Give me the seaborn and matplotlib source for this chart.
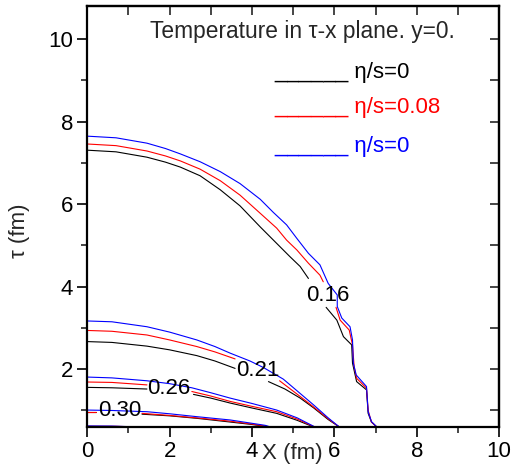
import numpy as np
import pandas as pd
import matplotlib
matplotlib.use("Agg")
import matplotlib.pyplot as plt
from matplotlib.ticker import MultipleLocator
import seaborn as sns

# ---------------- data ----------------
# black : eta/s = 0 (first), red : eta/s = 0.08, blue : eta/s = 0 (second)
# T = 0.16 contour
B016a_x = [0.00, 0.70, 1.45, 1.90, 2.26, 2.74, 3.23, 3.71, 4.20, 4.60, 4.92, 5.17, 5.37]
B016a_t = [7.31, 7.27, 7.14, 7.02, 6.90, 6.69, 6.35, 5.96, 5.45, 5.05, 4.73, 4.49, 4.20]
B016b_x = [5.80, 6.06, 6.22, 6.42, 6.44, 6.54, 6.78, 6.82, 6.90, 7.03]
B016b_t = [3.50, 3.19, 2.79, 2.59, 2.15, 1.70, 1.50, 0.93, 0.72, 0.60]
R016a_x = [0.00, 0.70, 1.45, 1.90, 2.26, 2.74, 3.23, 3.71, 4.20, 4.60, 4.84, 5.09, 5.37, 5.65, 5.73]
R016a_t = [7.46, 7.42, 7.29, 7.17, 7.05, 6.85, 6.57, 6.22, 5.78, 5.42, 5.13, 4.89, 4.57, 4.28, 4.12]
R016b_x = [6.04, 6.14, 6.36, 6.44, 6.48, 6.54, 6.78, 6.82, 6.90, 7.03]
R016b_t = [3.50, 3.19, 2.95, 2.59, 2.06, 1.78, 1.54, 1.00, 0.72, 0.60]
U016_x = [0.00, 0.70, 1.45, 1.90, 2.26, 2.74, 3.23, 3.71, 4.20, 4.52, 4.84, 5.09, 5.37,
          5.65, 5.85, 6.07, 6.07, 6.18, 6.38, 6.44, 6.46, 6.53, 6.78, 6.82, 6.90, 7.03]
U016_t = [7.65, 7.61, 7.48, 7.35, 7.22, 7.03, 6.79, 6.50, 6.12, 5.80, 5.50, 5.17, 4.81,
          4.53, 4.08, 3.80, 3.52, 3.24, 3.03, 2.71, 2.15, 1.86, 1.58, 0.97, 0.73, 0.60]
# T = 0.21 contour
B021a_x = [0.00, 0.60, 1.45, 2.00, 2.66, 3.10, 3.59]
B021a_t = [2.67, 2.65, 2.56, 2.47, 2.33, 2.20, 2.02]
B021b_x = [4.40, 4.80, 5.17, 5.50, 5.85, 6.12]
B021b_t = [1.70, 1.52, 1.30, 1.06, 0.78, 0.60]
R021a_x = [0.00, 0.60, 1.45, 2.00, 2.66, 3.10, 3.59]
R021a_t = [2.94, 2.92, 2.83, 2.71, 2.55, 2.42, 2.25]
R021b_x = [4.67, 5.09, 5.49, 5.85, 6.12]
R021b_t = [1.72, 1.40, 1.09, 0.80, 0.60]
U021_x = [0.00, 0.60, 1.45, 2.00, 2.66, 3.10, 3.47, 3.95, 4.28, 4.76, 5.09, 5.49, 5.85, 6.12]
U021_t = [3.17, 3.15, 3.03, 2.90, 2.71, 2.55, 2.39, 2.20, 2.04, 1.76, 1.48, 1.14, 0.82, 0.60]
# T = 0.26 contour
B026a_x = [0.00, 0.60, 1.45]
B026a_t = [1.56, 1.55, 1.52]
B026b_x = [2.58, 3.00, 3.47, 4.00, 4.60, 5.10, 5.50]
B026b_t = [1.39, 1.30, 1.18, 1.06, 0.93, 0.76, 0.60]
R026a_x = [0.00, 0.60, 1.45]
R026a_t = [1.69, 1.68, 1.62]
R026b_x = [2.54, 3.00, 3.47, 4.00, 4.60, 5.10, 5.52]
R026b_t = [1.46, 1.35, 1.22, 1.10, 0.97, 0.79, 0.60]
U026_x = [0.00, 0.60, 1.45, 2.00, 2.54, 3.00, 3.47, 4.00, 4.60, 5.10, 5.53]
U026_t = [1.81, 1.79, 1.72, 1.65, 1.55, 1.43, 1.30, 1.17, 1.01, 0.82, 0.60]
# T = 0.30 contour
B030a_x = [0.00, 0.22]
B030a_t = [0.96, 0.96]
B030b_x = [1.33, 2.00, 2.66, 3.47, 4.00, 4.45]
B030b_t = [0.91, 0.87, 0.81, 0.72, 0.66, 0.60]
R030a_x = [0.00, 0.22]
R030a_t = [0.97, 0.97]
R030b_x = [1.33, 2.00, 2.66, 3.47, 4.00, 4.45]
R030b_t = [0.93, 0.88, 0.82, 0.74, 0.67, 0.60]
U030_x = [0.00, 0.60, 1.45, 2.00, 2.66, 3.47, 4.32, 4.45]
U030_t = [1.01, 1.00, 0.97, 0.92, 0.85, 0.77, 0.64, 0.60]
# hottest contour grazing the bottom edge
B035_x = [0.00, 1.00]
B035_t = [0.612, 0.605]
R035_x = [0.00, 0.70, 1.24]
R035_t = [0.618, 0.616, 0.600]
U035_x = [0.00, 0.60, 1.10]
U035_t = [0.625, 0.622, 0.605]

LEVEL_LABELS = ["0.16", "0.21", "0.26", "0.30"]
LABEL_X = [5.85, 4.14, 1.97, 0.78]
LABEL_T = [3.78, 1.98, 1.54, 0.99]

SERIES_NAMES = ["eta/s=0 (a)", "eta/s=0.08", "eta/s=0 (b)"]
LEGEND_TEXT = ["______ \u03b7/s=0", "______ \u03b7/s=0.08", "______ \u03b7/s=0"]
COLORS = ["black", "#ff0000", "#0000ff"]

segments = {
    SERIES_NAMES[0]: [(B016a_x, B016a_t), (B016b_x, B016b_t), (B021a_x, B021a_t),
                      (B021b_x, B021b_t), (B026a_x, B026a_t), (B026b_x, B026b_t),
                      (B030a_x, B030a_t), (B030b_x, B030b_t), (B035_x, B035_t)],
    SERIES_NAMES[1]: [(R016a_x, R016a_t), (R016b_x, R016b_t), (R021a_x, R021a_t),
                      (R021b_x, R021b_t), (R026a_x, R026a_t), (R026b_x, R026b_t),
                      (R030a_x, R030a_t), (R030b_x, R030b_t), (R035_x, R035_t)],
    SERIES_NAMES[2]: [(U016_x, U016_t), (U021_x, U021_t), (U026_x, U026_t),
                      (U030_x, U030_t), (U035_x, U035_t)],
}

rows = []
for name, segs in segments.items():
    for k, (xs, ts) in enumerate(segs):
        for xv, tv in zip(xs, ts):
            rows.append({"x": xv, "tau": tv, "series": name, "seg": f"{name}-{k}"})
df = pd.DataFrame(rows)

# ---------------- plot ----------------
sns.set_style("ticks")
plt.rcParams["font.family"] = ["Liberation Sans", "DejaVu Sans"]
FS = 16

fig = plt.figure(figsize=(5.13, 4.67), dpi=100)
ax = fig.add_axes([0.170, 0.0857, 0.803, 0.901])

sns.lineplot(data=df, x="x", y="tau", hue="series", units="seg",
             estimator=None, sort=False, hue_order=SERIES_NAMES,
             palette=dict(zip(SERIES_NAMES, COLORS)), linewidth=0.8,
             legend=False, ax=ax)

for lab, lx, lt in zip(LEVEL_LABELS, LABEL_X, LABEL_T):
    ax.text(lx, lt, lab, ha="center", va="center", fontsize=FS, color="black")

ax.set_xlim(0, 10)
ax.set_ylim(0.6, 10.8)
ax.set_xticks([0, 2, 4, 6, 8, 10])
ax.set_yticks([2, 4, 6, 8, 10])
ax.xaxis.set_minor_locator(MultipleLocator(1))
ax.yaxis.set_minor_locator(MultipleLocator(1))
ax.tick_params(which="major", direction="out", length=7, width=1.2,
               labelsize=FS, pad=3, colors="black")
ax.tick_params(which="minor", direction="out", length=4, width=1.2)

for sp in ax.spines.values():
    sp.set_visible(True)
    sp.set_linewidth(1.6)
    sp.set_color("black")

top = ax.secondary_xaxis("top")
top.set_xticks([0, 2, 4, 6, 8, 10])
top.xaxis.set_minor_locator(MultipleLocator(1))
top.tick_params(which="both", direction="in", length=6.5, width=1.2, labeltop=False)
top.spines["top"].set_linewidth(1.6)
right = ax.secondary_yaxis("right")
right.set_yticks([2, 4, 6, 8, 10])
right.yaxis.set_minor_locator(MultipleLocator(1))
right.tick_params(which="both", direction="in", length=6.5, width=1.2, labelright=False)
right.spines["right"].set_linewidth(1.6)

ax.set_xlabel("X (fm)", fontsize=FS)
ax.set_ylabel("\u03c4 (fm)", fontsize=FS)
ax.xaxis.set_label_coords(0.498, -0.037)
ax.yaxis.set_label_coords(-0.14, 0.466)

ax.text(0.153, 0.924, "Temperature in \u03c4-x plane. y=0.", transform=ax.transAxes,
        fontsize=FS + 0.4, ha="left", va="baseline")
for k, (txt, col) in enumerate(zip(LEGEND_TEXT, COLORS)):
    ax.text(0.454, [0.829, 0.746, 0.653][k], txt, color=col, transform=ax.transAxes,
            fontsize=FS, ha="left", va="baseline")

fig.savefig("out.png", dpi=100)
